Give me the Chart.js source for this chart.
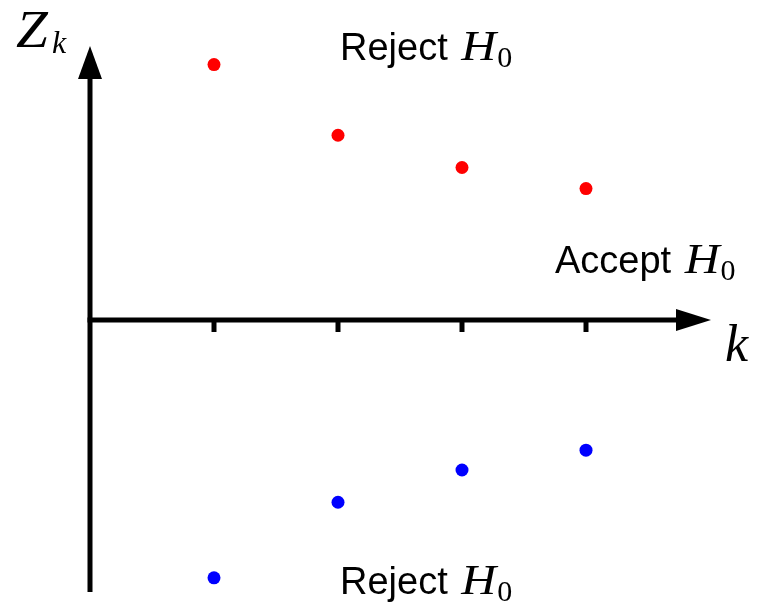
<!DOCTYPE html>
<html>
<head>
<meta charset="utf-8">
<script src="https://cdn.jsdelivr.net/npm/chart.js@4/dist/chart.umd.min.js"></script>
<style>
  html, body { margin: 0; padding: 0; background: #fff; }
  #wrap { width: 761px; height: 613px; }
</style>
</head>
<body>
<div id="wrap"><canvas id="chart"></canvas></div>
<script>
// stages k and the statistic bounds
const ks = [1, 2, 3, 4];
const upperBound = [2.06, 1.49, 1.23, 1.06];
const lowerBound = [-2.08, -1.47, -1.21, -1.05];
const tickKs = [1, 2, 3, 4];

const xMin = 0, xMax = 5;
const yMin = -2.194, yMax = 2.218;

const SANS = '"Liberation Sans", Arial, sans-serif';
const SERIF = '"Liberation Serif", "Times New Roman", serif';

// "Reject H_0" style label, starting at pixel (x, baseline y)
function drawHLabel(ctx, word, x, y) {
    ctx.fillStyle = '#000';
    ctx.textAlign = 'left';
    ctx.textBaseline = 'alphabetic';
    ctx.font = '38px ' + SANS;
    ctx.fillText(word, x, y);
    let cx = x + ctx.measureText(word + ' ').width + 3;
    ctx.save();
    ctx.translate(cx, y);
    ctx.scale(1.15, 1);
    ctx.font = 'italic 42px ' + SERIF;
    ctx.fillText('H', 0, 0);
    const hw = ctx.measureText('H').width * 1.15;
    ctx.restore();
    ctx.font = '30px ' + SERIF;
    ctx.fillText('0', cx + hw + 1, y + 7);
}

const axesPlugin = {
    id: 'axesPlugin',
    beforeDatasetsDraw(chart) {
        const ctx = chart.ctx;
        const xs = chart.scales.x, ys = chart.scales.y;
        const x0 = xs.getPixelForValue(0);
        const y0 = ys.getPixelForValue(0);
        const top = ys.getPixelForValue(yMax);
        const bottom = ys.getPixelForValue(yMin);
        const right = xs.getPixelForValue(xMax);
        ctx.save();
        ctx.strokeStyle = '#000';
        ctx.fillStyle = '#000';
        ctx.lineWidth = 5;
        ctx.lineCap = 'butt';
        // vertical axis
        ctx.beginPath();
        ctx.moveTo(x0, bottom);
        ctx.lineTo(x0, top + 20);
        ctx.stroke();
        ctx.beginPath();
        ctx.moveTo(x0, top + 1);
        ctx.lineTo(x0 - 12, top + 34);
        ctx.lineTo(x0 + 12, top + 34);
        ctx.closePath();
        ctx.fill();
        // horizontal axis
        ctx.beginPath();
        ctx.moveTo(x0 - 2.5, y0);
        ctx.lineTo(right - 20, y0);
        ctx.stroke();
        ctx.beginPath();
        ctx.moveTo(right + 1, y0);
        ctx.lineTo(right - 34, y0 - 11);
        ctx.lineTo(right - 34, y0 + 11);
        ctx.closePath();
        ctx.fill();
        // ticks
        tickKs.forEach(k => {
            const px = xs.getPixelForValue(k);
            ctx.beginPath();
            ctx.moveTo(px, y0);
            ctx.lineTo(px, y0 + 12);
            ctx.stroke();
        });
        // axis titles
        ctx.textAlign = 'left';
        ctx.textBaseline = 'alphabetic';
        ctx.save();
        ctx.translate(x0 - 74, top + 2);
        ctx.scale(1.1, 1);
        ctx.font = 'italic 52px ' + SERIF;
        ctx.fillText('Z', 0, 0);
        ctx.restore();
        ctx.font = 'italic 32px ' + SERIF;
        ctx.fillText('k', x0 - 38, top + 8);
        ctx.font = 'italic 52px ' + SERIF;
        ctx.fillText('k', right + 15, y0 + 41);
        // region labels
        drawHLabel(ctx, 'Reject', x0 + 250, top + 15);
        drawHLabel(ctx, 'Accept', x0 + 465, y0 - 47);
        drawHLabel(ctx, 'Reject', x0 + 250, bottom + 2);
        ctx.restore();
    }
};

new Chart(document.getElementById('chart'), {
    type: 'scatter',
    data: {
        datasets: [
            {
                label: 'upper',
                data: ks.map((k, i) => ({ x: k, y: upperBound[i] })),
                backgroundColor: '#ff0000',
                borderWidth: 0,
                pointRadius: 6.5
            },
            {
                label: 'lower',
                data: ks.map((k, i) => ({ x: k, y: lowerBound[i] })),
                backgroundColor: '#0000ff',
                borderWidth: 0,
                pointRadius: 6.5
            }
        ]
    },
    options: {
        responsive: true,
        maintainAspectRatio: false,
        animation: false,
        clip: false,
        layout: { padding: { left: 90, right: 51, top: 45, bottom: 21 } },
        plugins: { legend: { display: false }, tooltip: { enabled: false } },
        scales: {
            x: { type: 'linear', min: xMin, max: xMax, display: false },
            y: { type: 'linear', min: yMin, max: yMax, display: false }
        }
    },
    plugins: [axesPlugin]
});
</script>
</body>
</html>
